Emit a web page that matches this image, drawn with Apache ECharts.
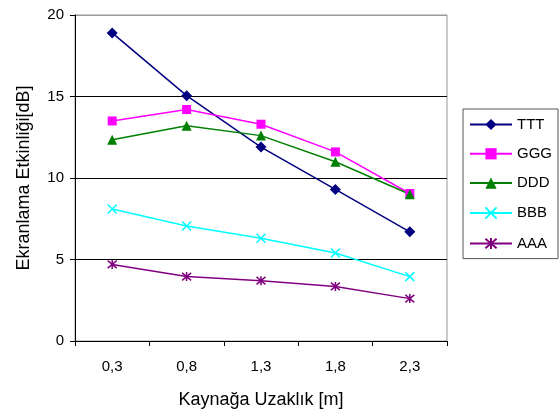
<!DOCTYPE html>
<html>
<head>
<meta charset="utf-8">
<script src="https://cdn.jsdelivr.net/npm/echarts@6/dist/echarts.min.js"></script>
<style>
  html, body { margin: 0; padding: 0; background: #fff; }
  #chart { width: 559px; height: 414px; }
</style>
</head>
<body>
<div id="chart"></div>
<script>
var categories = ['0,3', '0,8', '1,3', '1,8', '2,3']
var ttt = [18.9, 15.05, 11.9, 9.3, 6.7]
var ggg = [13.5, 14.2, 13.3, 11.6, 9.05]
var ddd = [12.35, 13.2, 12.6, 11.0, 9.0]
var bbb = [8.1, 7.05, 6.3, 5.4, 3.95]
var aaa = [4.7, 3.95, 3.7, 3.35, 2.6]

var crossPath = 'path://M0,0L10,10M10,0L0,10'
var starPath = 'path://M0,0L10,10M10,0L0,10M5,-1L5,11'

function makeSeries (name, data, color, symbol, size, stroke) {
  var item = { color: color }
  if (stroke) {
    item = { color: 'none', borderColor: color, borderWidth: 1.5 }
  }
  return {
    name: name,
    type: 'line',
    data: data,
    color: color,
    symbol: symbol,
    symbolSize: size,
    showAllSymbol: true,
    lineStyle: { color: color, width: 1.5 },
    itemStyle: item,
    emphasis: { disabled: true },
    animation: false
  }
}

var chart = echarts.init(document.getElementById('chart'))
var option = {
  backgroundColor: '#fff',
  textStyle: { fontFamily: 'Liberation Sans, Arial, sans-serif', color: '#000' },
  grid: {
    left: 75,
    right: 112,
    top: 15,
    bottom: 70,
    show: true,
    borderColor: '#999',
    borderWidth: 1
  },
  legend: {
    orient: 'vertical',
    left: 463,
    top: 109,
    padding: [8, 6, 7, 6],
    itemGap: 14.3,
    itemWidth: 42,
    itemHeight: 14,
    borderColor: '#555',
    borderWidth: 1,
    textStyle: { fontSize: 15, color: '#000', fontFamily: 'Liberation Sans, Arial, sans-serif' },
    data: ['TTT', 'GGG', 'DDD', 'BBB', 'AAA']
  },
  xAxis: {
    type: 'category',
    data: categories,
    boundaryGap: true,
    name: 'Kaynağa Uzaklık [m]',
    nameLocation: 'middle',
    nameGap: 50,
    nameTextStyle: { fontSize: 18, color: '#000' },
    axisLine: { lineStyle: { color: '#000', width: 1 } },
    axisTick: { show: true, length: 5, alignWithLabel: false, lineStyle: { color: '#000' } },
    axisLabel: { fontSize: 15, color: '#000', margin: 18 },
    splitLine: { show: false }
  },
  yAxis: {
    type: 'value',
    min: 0,
    max: 20,
    interval: 5,
    name: 'Ekranlama Etkinliği[dB]',
    nameLocation: 'middle',
    nameGap: 42,
    nameTextStyle: { fontSize: 18, color: '#000' },
    axisLine: { show: true, lineStyle: { color: '#000', width: 1 } },
    axisTick: { show: true, length: 5, lineStyle: { color: '#000' } },
    axisLabel: { fontSize: 15, color: '#000', margin: 11 },
    splitLine: { show: true, lineStyle: { color: ['#000', '#000', '#000', '#000', '#999'], width: 1 } }
  },
  series: [
    makeSeries('TTT', ttt, '#000080', 'diamond', 11, false),
    makeSeries('GGG', ggg, '#FF00FF', 'rect', 9, false),
    makeSeries('DDD', ddd, '#008000', 'triangle', 10, false),
    makeSeries('BBB', bbb, '#00FFFF', crossPath, 9, true),
    makeSeries('AAA', aaa, '#800080', starPath, 9, true)
  ]
}
chart.setOption(option)
</script>
</body>
</html>
